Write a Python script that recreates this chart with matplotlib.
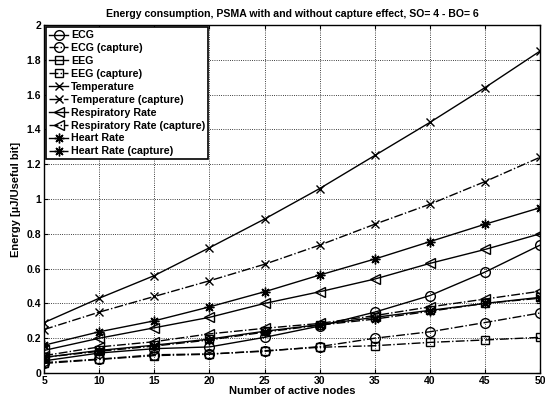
import matplotlib
matplotlib.use("Agg")
import matplotlib.pyplot as plt

plt.rcParams['font.family'] = ['Liberation Sans', 'DejaVu Sans']
plt.rcParams['font.weight'] = 'bold'

nodes = [5, 10, 15, 20, 25, 30, 35, 40, 45, 50]

ecg = [0.07, 0.115, 0.14, 0.15, 0.205, 0.27, 0.35, 0.445, 0.58, 0.735]
ecg_cap = [0.06, 0.08, 0.105, 0.11, 0.125, 0.152, 0.20, 0.237, 0.29, 0.345]
eeg = [0.09, 0.13, 0.16, 0.195, 0.24, 0.278, 0.32, 0.36, 0.40, 0.435]
eeg_cap = [0.055, 0.078, 0.10, 0.108, 0.128, 0.148, 0.157, 0.176, 0.19, 0.205]
temp = [0.29, 0.43, 0.56, 0.72, 0.885, 1.06, 1.25, 1.44, 1.64, 1.85]
temp_cap = [0.25, 0.35, 0.44, 0.53, 0.625, 0.735, 0.855, 0.97, 1.10, 1.24]
resp = [0.13, 0.20, 0.26, 0.32, 0.40, 0.467, 0.54, 0.63, 0.71, 0.80]
resp_cap = [0.10, 0.15, 0.18, 0.225, 0.257, 0.285, 0.33, 0.38, 0.425, 0.47]
heart = [0.16, 0.237, 0.30, 0.38, 0.467, 0.563, 0.655, 0.755, 0.855, 0.95]
heart_cap = [0.09, 0.125, 0.155, 0.19, 0.235, 0.275, 0.31, 0.355, 0.40, 0.43]

asterisk = (8, 2, 0)

series = [
    ("ECG", ecg, 'o', '-'),
    ("ECG (capture)", ecg_cap, 'o', '-.'),
    ("EEG", eeg, 's', '-'),
    ("EEG (capture)", eeg_cap, 's', '-.'),
    ("Temperature", temp, 'x', '-'),
    ("Temperature (capture)", temp_cap, 'x', '-.'),
    ("Respiratory Rate", resp, '<', '-'),
    ("Respiratory Rate (capture)", resp_cap, '<', '-.'),
    ("Heart Rate", heart, asterisk, '-'),
    ("Heart Rate (capture)", heart_cap, asterisk, '-.'),
]

fig = plt.figure(figsize=(5.45, 3.96), dpi=100)
ax = fig.add_axes([0.081, 0.058, 0.91, 0.879])

for label, vals, mk, ls in series:
    if mk in ('o', '<'):
        ms = 7
    elif mk == 's':
        ms = 5.5
    elif mk == 'x':
        ms = 6
    else:
        ms = 7
    ax.plot(nodes, vals, color='black', linestyle=ls, linewidth=1.0,
            marker=mk, markersize=ms, markerfacecolor='none',
            markeredgecolor='black', markeredgewidth=1.0, label=label)

ax.set_xlim(5, 50)
ax.set_ylim(0, 2)
ax.set_xticks(nodes)
ax.set_yticks([0, 0.2, 0.4, 0.6, 0.8, 1, 1.2, 1.4, 1.6, 1.8, 2])
ax.set_yticklabels(['0', '0.2', '0.4', '0.6', '0.8', '1', '1.2', '1.4', '1.6', '1.8', '2'])
ax.tick_params(direction='in', labelsize=7.5, length=3, width=0.8, top=True, right=True, pad=2)
for lab in ax.get_xticklabels() + ax.get_yticklabels():
    lab.set_fontweight('bold')
ax.grid(True, linestyle=':', color='black', linewidth=0.6)
for sp in ax.spines.values():
    sp.set_linewidth(1.0)

ax.set_title("Energy consumption, PSMA with and without capture effect, SO= 4 - BO= 6",
             fontsize=7.6, fontweight='bold', pad=6)
ax.set_xlabel("Number of active nodes", fontsize=8, fontweight='bold', labelpad=0)
ax.set_ylabel("Energy [\u00b5J/Useful bit]", fontsize=8, fontweight='bold', labelpad=4)

leg = ax.legend(loc='upper left', fontsize=7.7, handlelength=1.7, handletextpad=0.3,
                labelspacing=0.27, borderpad=0.3, borderaxespad=0.2, numpoints=1,
                fancybox=False, framealpha=1, edgecolor='black')
leg.get_frame().set_linewidth(1.2)
for t in leg.get_texts():
    t.set_fontweight('bold')

fig.savefig("out.png", dpi=100)
